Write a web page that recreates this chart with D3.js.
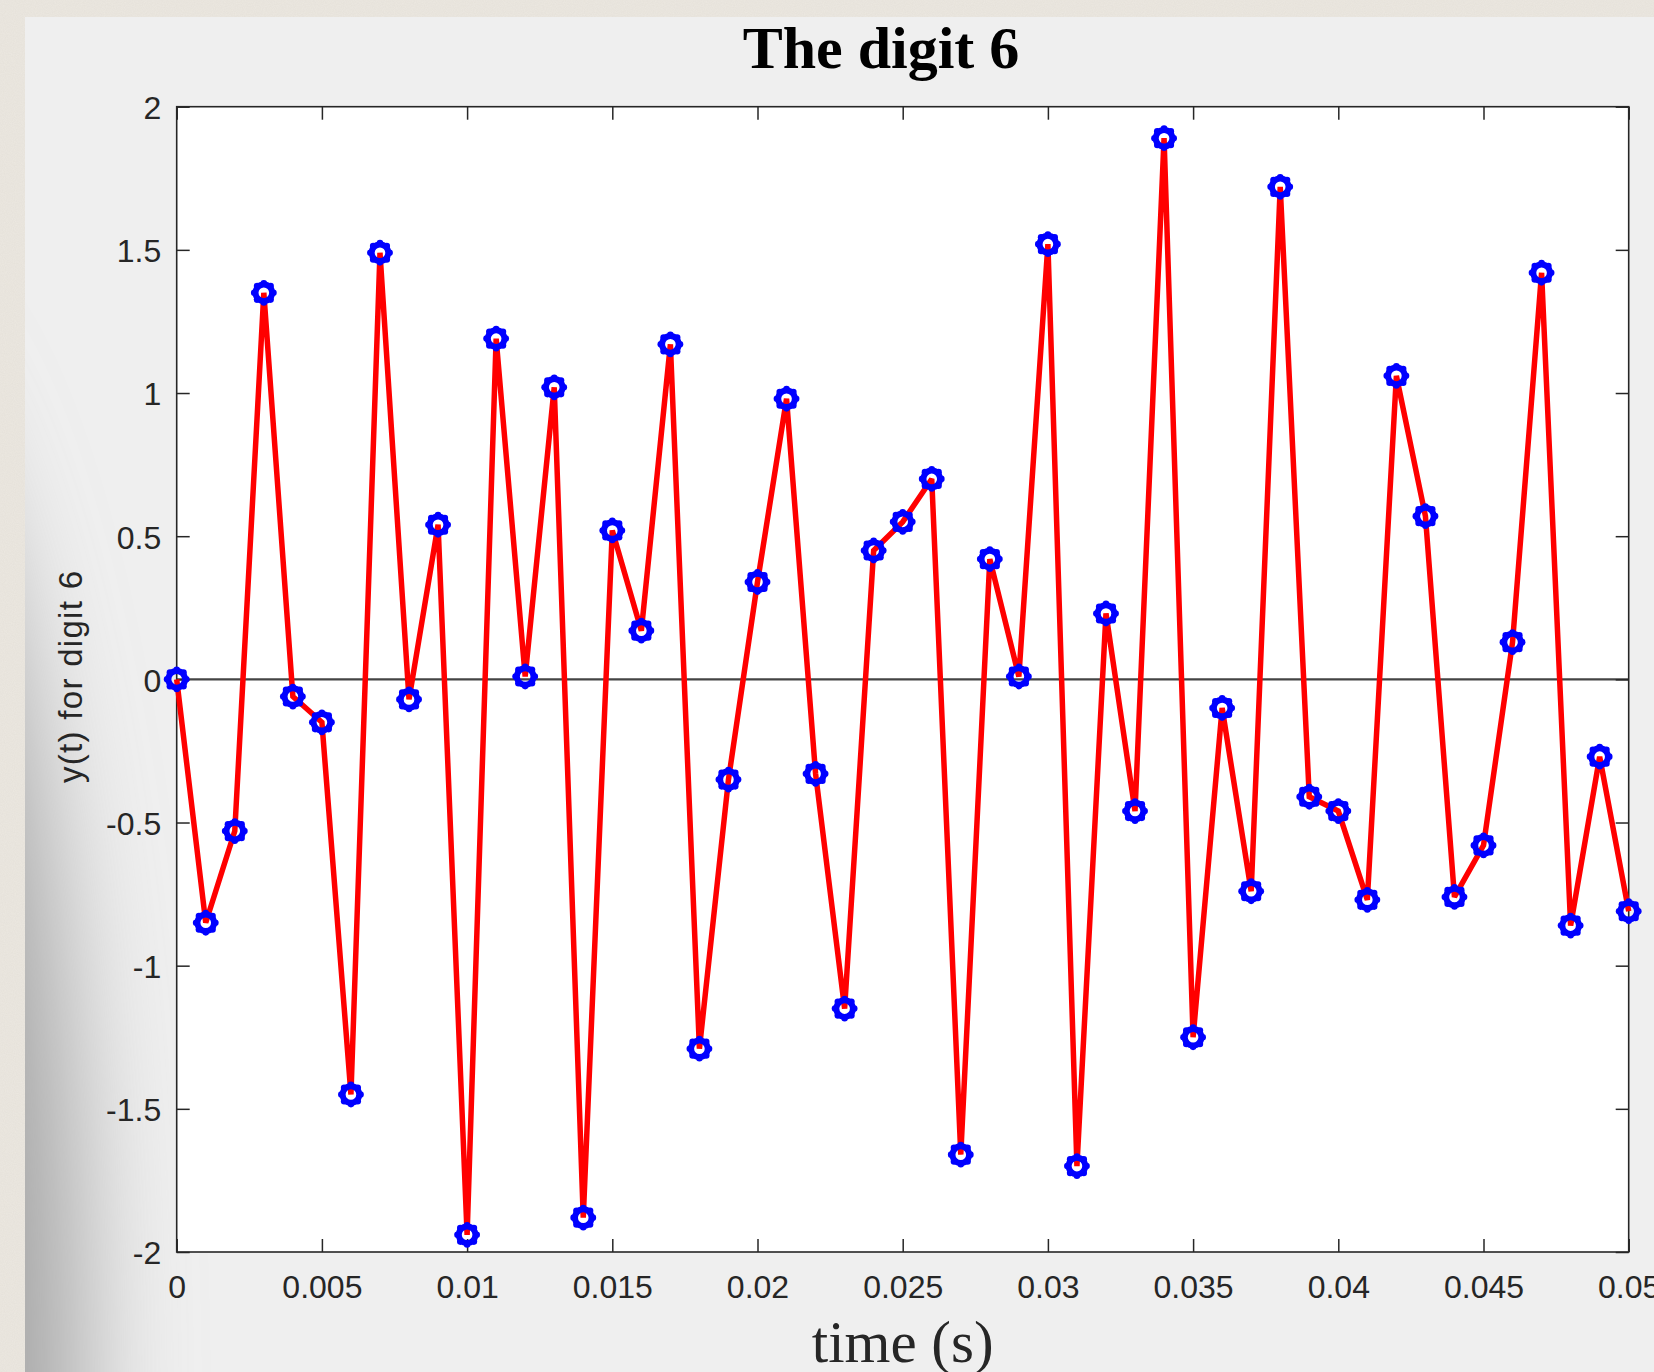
<!DOCTYPE html>
<html>
<head>
<meta charset="utf-8">
<script src="https://cdn.jsdelivr.net/npm/d3@7"></script>
<style>
  html, body { margin: 0; padding: 0; background: #ece8e1; overflow: hidden; }
  svg { display: block; }
</style>
</head>
<body>
<svg id="chart" width="1654" height="1372"></svg>
<script>
// Sample instants (s) of the tone signal for digit 6
const timeSeconds = [
  0.000, 0.001, 0.002, 0.003, 0.004, 0.005, 0.006, 0.007, 0.008, 0.009,
  0.010, 0.011, 0.012, 0.013, 0.014, 0.015, 0.016, 0.017, 0.018, 0.019,
  0.020, 0.021, 0.022, 0.023, 0.024, 0.025, 0.026, 0.027, 0.028, 0.029,
  0.030, 0.031, 0.032, 0.033, 0.034, 0.035, 0.036, 0.037, 0.038, 0.039,
  0.040, 0.041, 0.042, 0.043, 0.044, 0.045, 0.046, 0.047, 0.048, 0.049,
  0.050
];

// y(t) sampled values
const digitSignal = [
   0.00, -0.85, -0.53,  1.35, -0.06, -0.15, -1.45,  1.49, -0.07,  0.54,
  -1.94,  1.19,  0.01,  1.02, -1.88,  0.52,  0.17,  1.17, -1.29, -0.35,
   0.34,  0.98, -0.33, -1.15,  0.45,  0.55,  0.70, -1.66,  0.42,  0.01,
   1.52, -1.70,  0.23, -0.46,  1.89, -1.25, -0.10, -0.74,  1.72, -0.41,
  -0.46, -0.77,  1.06,  0.57, -0.76, -0.58,  0.13,  1.42, -0.86, -0.27,
  -0.81
];

const xTickValues = [0, 0.005, 0.01, 0.015, 0.02, 0.025, 0.03, 0.035, 0.04, 0.045, 0.05];
const xTickLabels = ["0", "0.005", "0.01", "0.015", "0.02", "0.025", "0.03", "0.035", "0.04", "0.045", "0.05"];
const yTickValues = [-2, -1.5, -1, -0.5, 0, 0.5, 1, 1.5, 2];
const yTickLabels = ["-2", "-1.5", "-1", "-0.5", "0", "0.5", "1", "1.5", "2"];

const titleText = "The digit 6";
const xLabelText = "time (s)";
const yLabelText = "y(t) for digit 6";

const W = 1654, H = 1372;
const panel = { x: 25, y: 17 };
const plot = { left: 176.7, right: 1628.7, top: 106.7, bottom: 1252 };
const tickLen = 13;
const axisColor = "#262626";
const tickFont = "'Liberation Sans', Arial, Helvetica, sans-serif";
const serifFont = "'Liberation Serif', 'Times New Roman', Times, serif";

const svg = d3.select("#chart");
const defs = svg.append("defs");

// paper grain for the desk backdrop
const grain = defs.append("filter").attr("id", "grain").attr("x", 0).attr("y", 0).attr("width", 1).attr("height", 1);
grain.append("feTurbulence").attr("type", "fractalNoise").attr("baseFrequency", 0.9).attr("numOctaves", 2).attr("seed", 3).attr("result", "n");
grain.append("feColorMatrix").attr("in", "n").attr("type", "matrix")
  .attr("values", "0 0 0 0 0.55  0 0 0 0 0.52  0 0 0 0 0.46  0 0 0 0.18 0");

const soft = defs.append("filter").attr("id", "soft").attr("x", "-50%").attr("y", "-50%").attr("width", "200%").attr("height", "200%");
soft.append("feGaussianBlur").attr("stdDeviation", 55);

defs.append("clipPath").attr("id", "panelClip")
  .append("rect").attr("x", panel.x).attr("y", panel.y).attr("width", W - panel.x).attr("height", H - panel.y);

// backdrop
svg.append("rect").attr("width", W).attr("height", H).attr("fill", "#ece8e1");
svg.append("rect").attr("width", W).attr("height", H).attr("filter", "url(#grain)");

// figure window
svg.append("rect").attr("x", panel.x).attr("y", panel.y)
  .attr("width", W - panel.x).attr("height", H - panel.y).attr("fill", "#efefef");

// soft shadow along the window's left edge
svg.append("g").attr("clip-path", "url(#panelClip)")
  .append("ellipse")
  .attr("cx", -170).attr("cy", 1420).attr("rx", 250).attr("ry", 1100)
  .attr("fill", "#a4a4a4").attr("filter", "url(#soft)");

// axes background
svg.append("rect").attr("x", plot.left).attr("y", plot.top)
  .attr("width", plot.right - plot.left).attr("height", plot.bottom - plot.top)
  .attr("fill", "#ffffff");

const x = d3.scaleLinear().domain([0, 0.05]).range([plot.left, plot.right]);
const y = d3.scaleLinear().domain([-2, 2]).range([plot.bottom, plot.top]);

// zero reference line
svg.append("line")
  .attr("x1", x(0)).attr("x2", x(0.05)).attr("y1", y(0)).attr("y2", y(0))
  .attr("stroke", "#444444").attr("stroke-width", 2.4);

// axes with inward ticks on all four sides
const xFmt = d => xTickLabels[xTickValues.indexOf(d)];
const yFmt = d => yTickLabels[yTickValues.indexOf(d)];

const gBottom = svg.append("g").attr("transform", `translate(0,${plot.bottom})`)
  .call(d3.axisBottom(x).tickValues(xTickValues).tickFormat(xFmt).tickSize(-tickLen).tickSizeOuter(0));
const gTop = svg.append("g").attr("transform", `translate(0,${plot.top})`)
  .call(d3.axisTop(x).tickValues(xTickValues).tickFormat("").tickSize(-tickLen).tickSizeOuter(0));
const gLeft = svg.append("g").attr("transform", `translate(${plot.left},0)`)
  .call(d3.axisLeft(y).tickValues(yTickValues).tickFormat(yFmt).tickSize(-tickLen).tickSizeOuter(0));
const gRight = svg.append("g").attr("transform", `translate(${plot.right},0)`)
  .call(d3.axisRight(y).tickValues(yTickValues).tickFormat("").tickSize(-tickLen).tickSizeOuter(0));

[gBottom, gTop, gLeft, gRight].forEach(g => {
  g.select(".domain").remove();
  g.selectAll(".tick line").attr("stroke", axisColor).attr("stroke-width", 1.5);
});
gBottom.selectAll(".tick text")
  .attr("y", 46).attr("dy", null)
  .attr("fill", axisColor).attr("font-family", tickFont).attr("font-size", 32);
gLeft.selectAll(".tick text")
  .attr("x", -15.5).attr("dy", "0.37em")
  .attr("fill", axisColor).attr("font-family", tickFont).attr("font-size", 32);

// axes box
svg.append("rect").attr("x", plot.left).attr("y", plot.top)
  .attr("width", plot.right - plot.left).attr("height", plot.bottom - plot.top)
  .attr("fill", "none").attr("stroke", axisColor).attr("stroke-width", 1.6);

// signal trace
const points = timeSeconds.map((t, i) => ({ t, v: digitSignal[i] }));
const line = d3.line().x(d => x(d.t)).y(d => y(d.v));
svg.append("path").datum(points)
  .attr("d", line)
  .attr("fill", "none").attr("stroke", "#ff0000")
  .attr("stroke-width", 5.5).attr("stroke-linejoin", "miter").attr("stroke-miterlimit", 3);

// circle markers
const petalAngles = d3.range(8).map(k => k * Math.PI / 4);
const marks = svg.append("g").selectAll("g.mark").data(points).join("g")
  .attr("class", "mark")
  .attr("transform", d => `translate(${x(d.t)},${y(d.v)})`);
marks.append("circle").attr("r", 8.3).attr("fill", "none")
  .attr("stroke", "#0000ff").attr("stroke-width", 6);
marks.selectAll("circle.petal").data(petalAngles).join("circle")
  .attr("class", "petal")
  .attr("cx", a => 9.6 * Math.cos(a)).attr("cy", a => 9.6 * Math.sin(a))
  .attr("r", 3.3).attr("fill", "#0000ff");

// title and axis labels
svg.append("text").text(titleText)
  .attr("x", 881).attr("y", 68).attr("text-anchor", "middle")
  .attr("font-family", serifFont).attr("font-weight", "bold").attr("font-size", 60)
  .attr("fill", "#000");

svg.append("text").text(xLabelText)
  .attr("x", (plot.left + plot.right) / 2).attr("y", 1362).attr("text-anchor", "middle")
  .attr("font-family", serifFont).attr("font-size", 59)
  .attr("fill", axisColor);

svg.append("text").text(yLabelText)
  .attr("transform", `translate(82,677) rotate(-90)`)
  .attr("text-anchor", "middle")
  .attr("font-family", tickFont).attr("font-size", 33)
  .attr("textLength", 212).attr("lengthAdjust", "spacing")
  .attr("fill", axisColor);
</script>
</body>
</html>
